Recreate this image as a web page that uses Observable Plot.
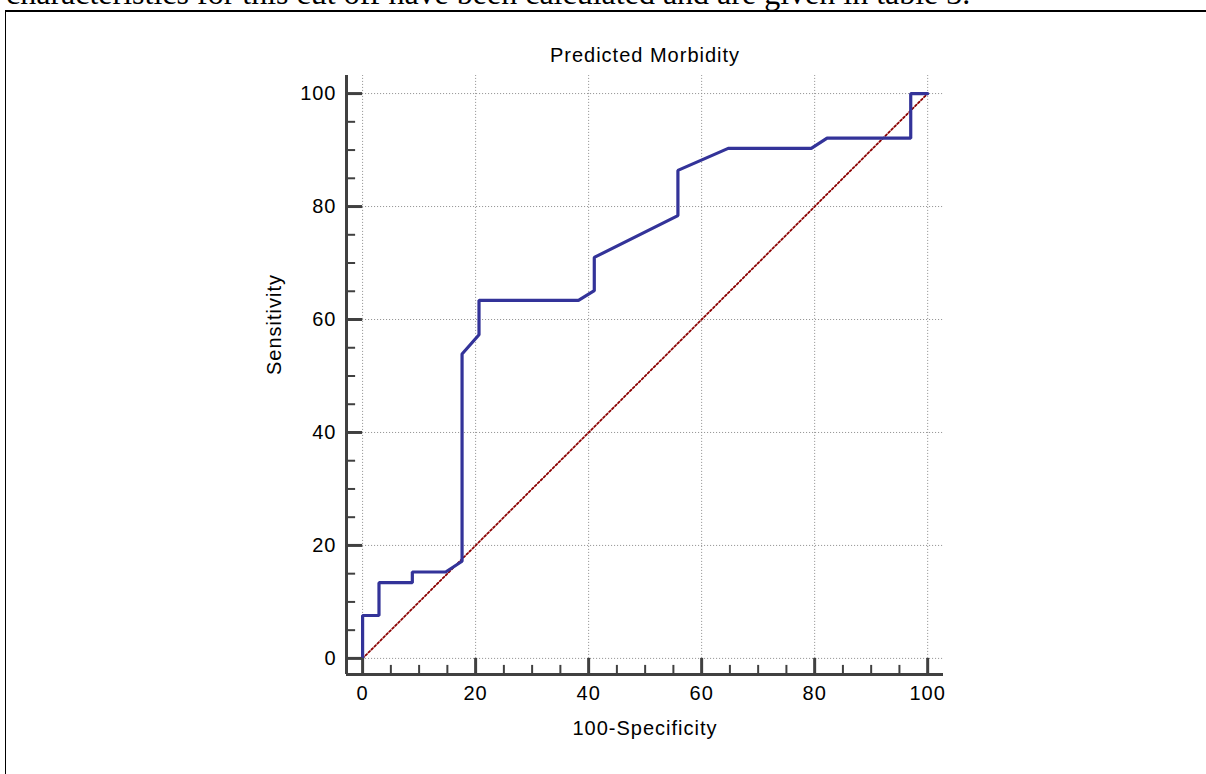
<!DOCTYPE html>
<html><head><meta charset="utf-8">
<script src="https://cdn.jsdelivr.net/npm/d3@7"></script>
<script src="https://cdn.jsdelivr.net/npm/@observablehq/plot@0.6"></script>
<style>
html,body{margin:0;padding:0;background:#fff;}
#page{position:relative;width:1206px;height:774px;overflow:hidden;background:#fff;}
#prose{position:absolute;left:6px;top:-23px;font:32px/32px 'Liberation Serif','Times New Roman',serif;color:#000;white-space:nowrap;}
#box{position:absolute;left:5px;top:10px;width:1400px;height:900px;border-top:2px solid #000;border-left:1.5px solid #000;box-sizing:border-box;}
#chart{position:absolute;left:0;top:0;}
</style></head><body>
<div id="page">
<div id="prose">characteristics for this cut off have been calculated and are given in table 3.</div>
<div id="box"></div>
<div id="chart"></div>
</div>
<script>
// ROC curve points (100-Specificity, Sensitivity)
const fpr = [0, 0, 2.9, 2.9, 8.8, 8.8, 14.7, 17.6, 17.6, 20.6, 20.6, 38.2, 41.0, 41.0, 55.8, 55.8, 64.7, 79.4, 82.2, 97.0, 97.0, 100];
const sensitivity = [0, 7.6, 7.6, 13.4, 13.4, 15.3, 15.3, 17.2, 53.9, 57.3, 63.4, 63.4, 65.1, 71.0, 78.4, 86.4, 90.3, 90.3, 92.1, 92.1, 100, 100];
const diagonalX = [0, 100];
const diagonalY = [0, 100];
const xTickLabels = [0, 20, 40, 60, 80, 100];
const yTickLabels = [0, 20, 40, 60, 80, 100];
const minorTicks = [5, 10, 15, 25, 30, 35, 45, 50, 55, 65, 70, 75, 85, 90, 95];
const titleText = "Predicted Morbidity";
const xLabelText = "100-Specificity";
const yLabelText = "Sensitivity";
const xMin = -2.85, xMax = 102.8, yMin = -2.85, yMax = 103.2;

const roc = fpr.map((x, i) => ({x, y: sensitivity[i]}));
const diag = diagonalX.map((x, i) => ({x, y: diagonalY[i]}));
const axisColor = "#404040";
const gridColor = "#8c8c8c";

const chart = Plot.plot({
  width: 1206,
  height: 774,
  marginLeft: 346,
  marginRight: 263,
  marginTop: 75,
  marginBottom: 100,
  x: {domain: [xMin, xMax]},
  y: {domain: [yMin, yMax]},
  style: {fontFamily: "'Liberation Sans', Arial, sans-serif", fontSize: "20px", letterSpacing: "1px", background: "transparent", color: "#000"},
  marks: [
    Plot.ruleX(xTickLabels, {y1: 0, y2: yMax, stroke: gridColor, strokeWidth: 1, strokeDasharray: "1,2"}),
    Plot.ruleY(yTickLabels, {x1: 0, x2: xMax, stroke: gridColor, strokeWidth: 1, strokeDasharray: "1,2"}),
    Plot.line(diag, {x: "x", y: "y", stroke: "#8b0000", strokeWidth: 1.8, strokeDasharray: "2,2.2"}),
    Plot.line(roc, {x: "x", y: "y", stroke: "#333399", strokeWidth: 3.2, strokeLinejoin: "miter"}),
    // axis lines
    Plot.ruleY([yMin], {x1: xMin, x2: xMax, stroke: axisColor, strokeWidth: 3}),
    Plot.ruleX([xMin], {y1: yMin, y2: yMax, stroke: axisColor, strokeWidth: 3}),
    // major ticks (inward)
    Plot.ruleX(xTickLabels, {y1: 0, y2: yMin, stroke: axisColor, strokeWidth: 3}),
    Plot.ruleY(yTickLabels, {x1: xMin, x2: 0, stroke: axisColor, strokeWidth: 3}),
    // minor ticks
    Plot.ruleX(minorTicks, {y1: 0, y2: yMin, insetTop: 7, stroke: axisColor, strokeWidth: 2}),
    Plot.ruleY(minorTicks, {x1: xMin, x2: 0, insetRight: 7, stroke: axisColor, strokeWidth: 2}),
    // tick labels
    Plot.axisX(xTickLabels, {anchor: "bottom", tickSize: 0, tickPadding: 11, fontSize: 20, fill: "#000", label: null}),
    Plot.axisY(yTickLabels, {anchor: "left", tickSize: 0, tickPadding: 10, fontSize: 20, fill: "#000", label: null}),
    // title and axis labels
    Plot.text([titleText], {text: d => d, frameAnchor: "top", lineAnchor: "middle", dy: -20, fontSize: 20, fill: "#000"}),
    Plot.text([xLabelText], {text: d => d, frameAnchor: "bottom", lineAnchor: "middle", dy: 54, fontSize: 20, fill: "#000"}),
    Plot.text([yLabelText], {text: d => d, frameAnchor: "left", lineAnchor: "middle", dx: -72, rotate: -90, fontSize: 20, fill: "#000"})
  ]
});
document.getElementById("chart").appendChild(chart);
</script>
</body></html>
